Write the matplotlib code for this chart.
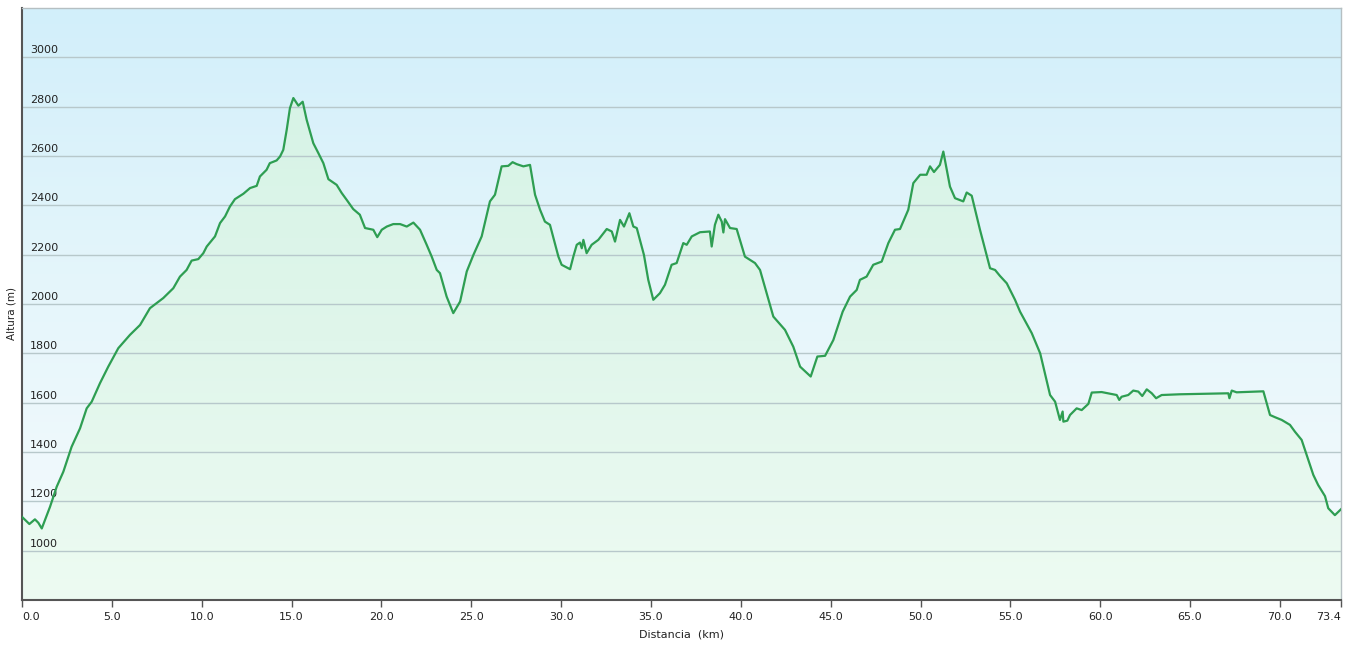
import numpy as np
import matplotlib.pyplot as plt
from matplotlib.colors import LinearSegmentedColormap

# perfil de altura (km, m)
dist_km = [0.00, 0.41, 0.72, 0.91, 1.10, 1.56, 1.93, 2.30, 2.76, 3.23, 3.60, 3.88,
           4.34, 4.80, 5.36, 6.01, 6.57, 7.12, 7.86, 8.42, 8.79, 9.16, 9.44, 9.81,
           10.09, 10.28, 10.74, 11.02, 11.30, 11.57, 11.85, 12.32, 12.69, 13.06, 13.24,
           13.61, 13.79, 14.17, 14.36, 14.54, 14.73, 14.91, 15.10, 15.38, 15.62, 15.84,
           16.21, 16.49, 16.77, 17.05, 17.51, 17.79, 18.07, 18.43, 18.80, 19.09, 19.55,
           19.77, 20.02, 20.30, 20.66, 21.04, 21.41, 21.78, 22.15, 22.52, 22.80, 23.08,
           23.26, 23.63, 24.00, 24.38, 24.75, 25.12, 25.58, 26.04, 26.32, 26.69, 27.06,
           27.30, 27.53, 27.90, 28.27, 28.55, 28.83, 29.10, 29.38, 29.85, 30.03, 30.50,
           30.68, 30.87, 31.05, 31.15, 31.24, 31.42, 31.70, 32.07, 32.54, 32.82, 33.00,
           33.28, 33.50, 33.80, 34.02, 34.21, 34.61, 34.85, 35.13, 35.50, 35.78, 36.15,
           36.43, 36.80, 36.99, 37.27, 37.73, 38.28, 38.38, 38.56, 38.75, 38.94, 39.03,
           39.12, 39.40, 39.77, 40.23, 40.79, 41.07, 41.81, 42.46, 42.92, 43.30, 43.89,
           44.26, 44.69, 45.15, 45.67, 46.08, 46.45, 46.63, 47.00, 47.37, 47.84, 48.21,
           48.58, 48.86, 49.32, 49.60, 49.98, 50.34, 50.53, 50.75, 51.08, 51.27, 51.64,
           51.92, 52.38, 52.57, 52.85, 53.31, 53.87, 54.15, 54.42, 54.80, 55.26, 55.54,
           56.19, 56.66, 57.21, 57.49, 57.76, 57.91, 57.95, 58.17, 58.32, 58.69, 58.97,
           59.34, 59.53, 60.08, 60.92, 61.06, 61.19, 61.56, 61.84, 62.12, 62.34, 62.59,
           62.87, 63.11, 63.42, 64.44, 66.30, 67.13, 67.19, 67.32, 67.59, 69.08, 69.45,
           69.73, 70.10, 70.56, 70.84, 71.21, 71.58, 71.86, 72.13, 72.51, 72.69, 73.06,
           73.40]
altura_m = [1137, 1108, 1127, 1113, 1090, 1178, 1259, 1320, 1421, 1496, 1577, 1604,
            1679, 1746, 1821, 1875, 1915, 1983, 2024, 2064, 2111, 2138, 2176, 2182,
            2206, 2233, 2274, 2328, 2355, 2395, 2425, 2447, 2470, 2479, 2517,
            2544, 2571, 2582, 2598, 2625, 2706, 2794, 2835, 2804, 2820, 2747,
            2652, 2612, 2571, 2506, 2483, 2450, 2422, 2385, 2362, 2308, 2301,
            2271, 2301, 2314, 2324, 2324, 2314, 2330, 2301, 2240, 2192, 2138,
            2125, 2030, 1963, 2010, 2132, 2199, 2274, 2416, 2443, 2558, 2560,
            2575, 2567, 2558, 2564, 2443, 2382, 2334, 2321, 2192, 2159, 2141,
            2192, 2240, 2249, 2226, 2260, 2206, 2240, 2260, 2304, 2294, 2253,
            2341, 2314, 2368, 2314, 2308, 2199, 2098, 2017, 2044, 2078, 2159,
            2166, 2247, 2240, 2274, 2291, 2294, 2233, 2321, 2362, 2334, 2290,
            2344, 2308, 2304, 2192, 2166, 2138, 1949, 1895, 1827, 1746, 1706,
            1787, 1790, 1854, 1969, 2030, 2057, 2098, 2111, 2159, 2172, 2247,
            2301, 2304, 2382, 2490, 2524, 2524, 2558, 2535, 2564, 2618, 2476,
            2429, 2416, 2452, 2439, 2301, 2145, 2138, 2114, 2084, 2017, 1969,
            1882, 1800, 1631, 1604, 1530, 1564, 1523, 1527, 1550, 1577, 1570,
            1595, 1641, 1643, 1631, 1611, 1624, 1631, 1649, 1645, 1627, 1654,
            1638, 1618, 1631, 1634, 1637, 1638, 1618, 1649, 1642, 1646, 1550,
            1541, 1530, 1510, 1482, 1449, 1368, 1307, 1266, 1221, 1172, 1144,
            1168]

x_ticks = [0, 5, 10, 15, 20, 25, 30, 35, 40, 45, 50, 55, 60, 65, 70, 73.4]
y_grid = [1000, 1200, 1400, 1600, 1800, 2000, 2200, 2400, 2600, 2800, 3000]

xmin, xmax = 0, 73.4
ymin, ymax = 800, 3200

fig = plt.figure(figsize=(13.49, 6.47), dpi=100)
ax = fig.add_axes([22 / 1349, 47 / 647, 1319 / 1349, 592 / 647])
ax.set_xlim(xmin, xmax)
ax.set_ylim(ymin, ymax)

# fondo degradado azul -> blanco
bg = LinearSegmentedColormap.from_list('bg', ['#f6fbfd', '#e6f6fb', '#d2effa'])
grad = np.linspace(0, 1, 256).reshape(-1, 1)
ax.imshow(grad, aspect='auto', cmap=bg, origin='lower',
          extent=[xmin, xmax, ymin, ymax], zorder=0)

# relleno bajo el perfil con degradado verde
fl = LinearSegmentedColormap.from_list('fl', ['#edfbf2', '#e0f6eb', '#d6f3e6'])
img = ax.imshow(grad, aspect='auto', cmap=fl, origin='lower',
                extent=[xmin, xmax, ymin, 2900], zorder=1)
poly = ax.fill_between(dist_km, altura_m, ymin, color='none', lw=0)
img.set_clip_path(poly.get_paths()[0], transform=ax.transData)

for yv in y_grid:
    ax.axhline(yv, color='#b7c8cb', lw=1.0, zorder=2)
    ax.text(0.45, yv + 8, str(yv), fontsize=8, color='#222222',
            ha='left', va='bottom', zorder=3)

ax.plot(dist_km, altura_m, color='#2e9e52', lw=1.6, zorder=4,
        solid_joinstyle='round')

ax.set_yticks([])
ax.set_xticks(x_ticks)
ax.set_xticklabels([f'{v:.1f}' for v in x_ticks], fontsize=8, color='#222222')
lbls = ax.get_xticklabels()
lbls[0].set_ha('left')
lbls[-1].set_ha('right')
ax.tick_params(axis='x', direction='out', length=5, width=1, color='#555555', pad=4)

for side in ['left', 'bottom']:
    ax.spines[side].set_color('#555555')
    ax.spines[side].set_linewidth(1.5)
for side in ['top', 'right']:
    ax.spines[side].set_color('#b5bfc2')
    ax.spines[side].set_linewidth(1.0)

ax.set_xlabel('Distancia  (km)', fontsize=8, color='#222222', labelpad=5)
fig.text(12 / 1349, 1 - 313 / 647, 'Altura (m)', rotation=90, fontsize=7.5,
         color='#222222', ha='center', va='center')

fig.savefig('out.png', dpi=100)
